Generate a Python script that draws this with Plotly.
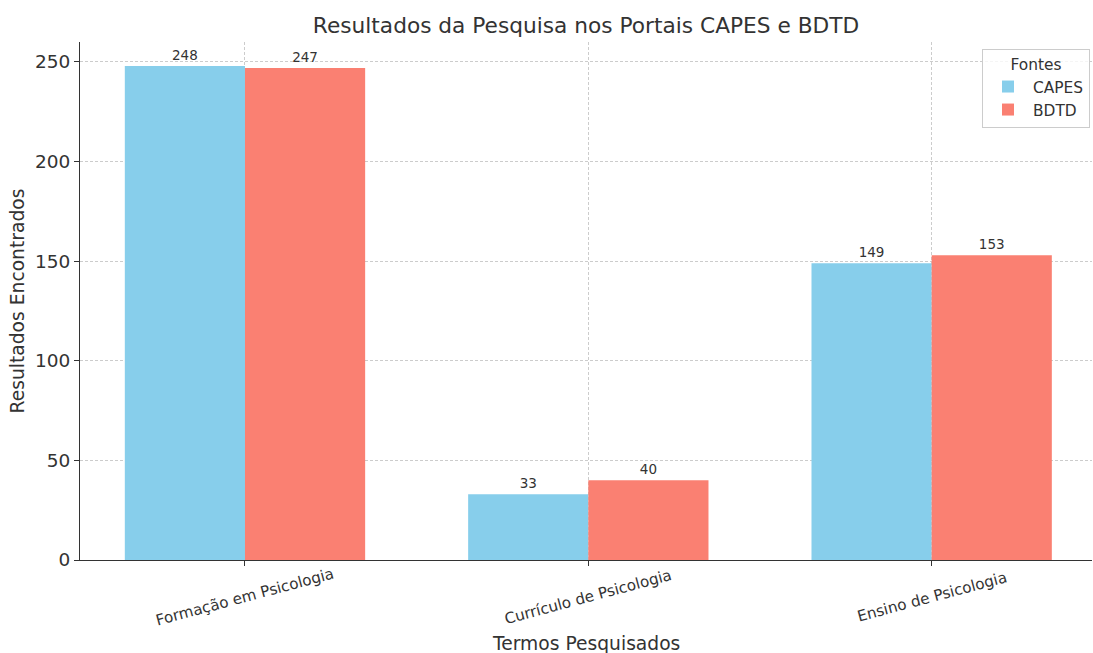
import plotly.graph_objects as go

categorias = ["Formação em Psicologia", "Currículo de Psicologia", "Ensino de Psicologia"]
capes = [248, 33, 149]
bdtd = [247, 40, 153]

W, H = 1093, 653

fig = go.Figure()
fig.add_trace(go.Bar(x=categorias, y=capes, name="CAPES", marker_color="#87CEEB",
                     marker_line_width=0,
                     text=capes, textposition="outside", cliponaxis=False,
                     textfont=dict(size=13.5, color="#333333")))
fig.add_trace(go.Bar(x=categorias, y=bdtd, name="BDTD", marker_color="#FA8072",
                     marker_line_width=0,
                     text=bdtd, textposition="outside", cliponaxis=False,
                     textfont=dict(size=13.5, color="#333333")))

# category labels rotated around their centre (matplotlib style)
for c in categorias:
    fig.add_annotation(x=c, y=0, xref="x", yref="y", text=c, showarrow=False,
                       textangle=-15, xanchor="center", yanchor="middle", yshift=-37,
                       font=dict(size=15.2, color="#333333"))
fig.add_annotation(x=0.5, y=0, xref="paper", yref="paper", text="Termos Pesquisados",
                   showarrow=False, xanchor="center", yanchor="middle", yshift=-83,
                   font=dict(size=18.7, color="#333333"))

fig.update_layout(
    width=W, height=H,
    margin=dict(l=80, r=1, t=42, b=93, autoexpand=False),
    paper_bgcolor="white", plot_bgcolor="white",
    font=dict(family="DejaVu Sans", color="#333333"),
    barmode="group", bargap=0.3, bargroupgap=0,
    title=dict(text="Resultados da Pesquisa nos Portais CAPES e BDTD", x=0.5, xanchor="center",
               xref="paper", y=1 - 25 / H, yanchor="middle", font=dict(size=21.7, color="#333333")),
    legend=dict(title=dict(text="Fontes", side="top center", font=dict(size=15.4)),
                x=0.998, y=0.9865, xanchor="right", yanchor="top",
                bordercolor="#cccccc", borderwidth=1, bgcolor="rgba(255,255,255,0.8)",
                font=dict(size=15.4), itemwidth=40),
    uniformtext=dict(mode=False),
)
fig.update_xaxes(range=[-0.4805, 2.467], showticklabels=False, showgrid=True, gridcolor="#cccccc",
                 griddash="3px,2px", gridwidth=0.8, showline=True, linecolor="#333333", linewidth=1.2,
                 ticks="outside", ticklen=5, tickcolor="#333333")
fig.update_yaxes(range=[0, 260], dtick=50, showgrid=True, gridcolor="#cccccc",
                 griddash="3px,2px", gridwidth=0.8, showline=True, linecolor="#333333", linewidth=1.2,
                 ticks="outside", ticklen=5, tickcolor="#333333", tickfont=dict(size=18.5, color="#333333"),
                 zeroline=False,
                 title=dict(text="Resultados Encontrados", font=dict(size=18.7), standoff=5))

fig.write_html("out.html", config={"displayModeBar": False},
               post_script="document.body.style.margin='0';document.body.style.overflow='hidden';")
